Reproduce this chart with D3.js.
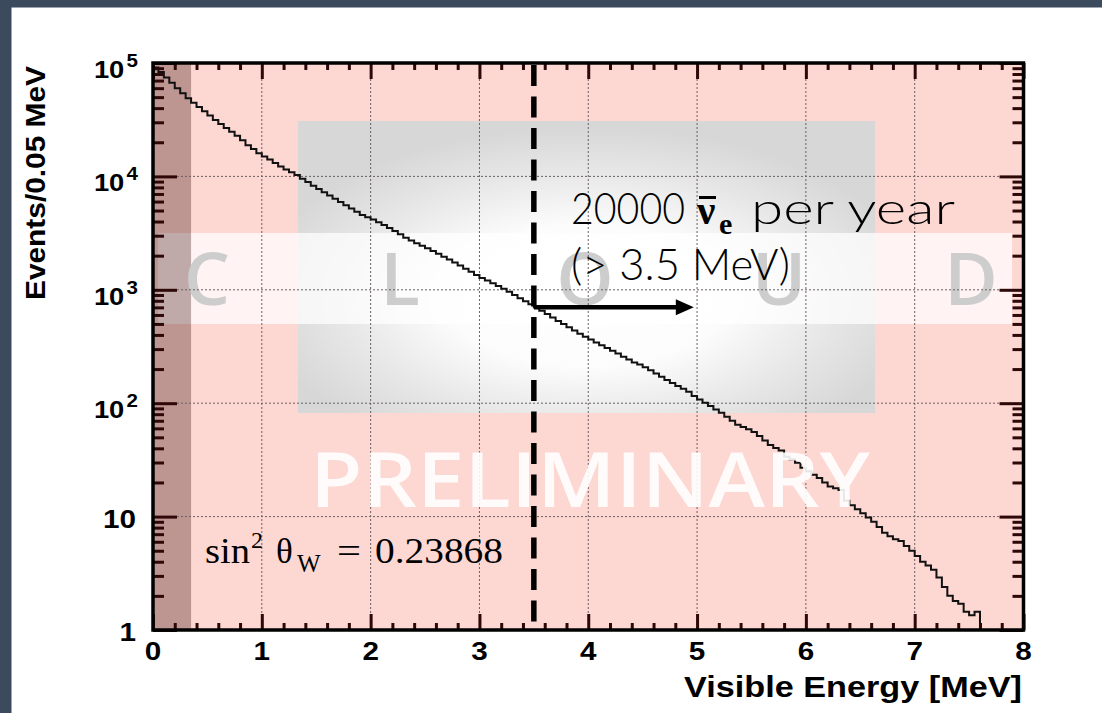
<!DOCTYPE html>
<html>
<head>
<meta charset="utf-8">
<script src="https://cdn.jsdelivr.net/npm/d3@7"></script>
<style>
  html, body { margin: 0; padding: 0; background: #ffffff; overflow: hidden; }
  svg { display: block; }
</style>
</head>
<body>
<svg id="chart" width="1102" height="713"></svg>
<script>
// Simulated visible-energy spectrum, events per 0.05 MeV bin (0 – 8 MeV)
const binWidth = 0.05;
const eventsPerBin = [
  91200, 83200, 74600, 66800, 59800, 54100, 49000, 44700,
  40900, 37600, 34400, 31500, 29000, 26700, 24700, 22800, 20800, 18800, 17400, 16000,
  15000, 14100, 13100, 12200, 11500, 10900, 10300, 9550, 8910, 8280,
  7740, 7240, 6790, 6340, 5940, 5560, 5200, 4880, 4570, 4360,
  4170, 3940, 3720, 3510, 3300, 3090, 2880, 2720, 2570, 2440,
  2320, 2200, 2080, 1960, 1850, 1740, 1640, 1530, 1440, 1350,
  1270, 1210, 1140, 1080, 1020, 960, 900, 843, 791, 745,
  700, 655, 611, 569, 532, 499, 468, 437, 410, 385,
  365, 343, 324, 306, 290, 274, 257, 243, 229, 219,
  207, 195, 183, 171, 160, 151, 142, 134, 126, 116,
  108, 101, 94.4, 88.1, 82.2, 75.9, 70.0, 64.6, 61.7, 58.9,
  55.6, 51.3, 47.0, 42.7, 40.3, 38.2, 33.7, 32.0, 29.9, 26.9,
  25.1, 23.4, 21.9, 20.0, 18.4, 17.8, 17.2, 13.8, 12.6, 11.6,
  10.7, 9.8, 9.0, 8.1, 7.2, 6.7, 6.3, 6.1, 5.5, 5.0,
  4.5, 4.0, 3.7, 3.4, 2.9, 2.4, 2.0, 1.8, 1.7, 1.45,
  1.35, 1.45,
  0, 0, 0, 0, 0, 0, 0, 0
];

const xDomain = [0, 8];
const yDomain = [1, 1e5];
const xTickValues = [0, 1, 2, 3, 4, 5, 6, 7, 8];
const xTickLabels = ["0", "1", "2", "3", "4", "5", "6", "7", "8"];
const xMinorTicks = [0.2,0.4,0.6,0.8,1.2,1.4,1.6,1.8,2.2,2.4,2.6,2.8,3.2,3.4,3.6,3.8,
                     4.2,4.4,4.6,4.8,5.2,5.4,5.6,5.8,6.2,6.4,6.6,6.8,7.2,7.4,7.6,7.8];
const yTickValues = [1, 10, 100, 1000, 10000, 100000];
const yTickBases = ["1", "10", "10", "10", "10", "10"];
const yTickExponents = ["", "", "2", "3", "4", "5"];
const yMinorTicks = [2,3,4,5,6,7,8,9, 20,30,40,50,60,70,80,90,
                     200,300,400,500,600,700,800,900,
                     2000,3000,4000,5000,6000,7000,8000,9000,
                     20000,30000,40000,50000,60000,70000,80000,90000];
const xGridValues = [1, 2, 3, 4, 5, 6, 7];
const yGridValues = [10, 100, 1000, 10000];

// Annotation values
const thresholdEnergy = 3.5;      // MeV, dashed cut line
const arrowEndEnergy = 4.97;      // MeV
const arrowLevel = 700;           // events / bin at the cut
const lowEnergyBandEnd = 0.35;    // MeV, shaded region
const xTitle = "Visible Energy [MeV]";
const yTitle = "Events/0.05 MeV";

const svg = d3.select("#chart");

const x = d3.scaleLinear().domain(xDomain).range([153, 1023.5]);
const y = d3.scaleLog().domain(yDomain).range([630, 63]).clamp(true);
const [x0, x1] = x.range();
const [yb, yt] = y.range();

// --- page frame
svg.append("rect").attr("x", 0).attr("y", 0).attr("width", 1102).attr("height", 713).attr("fill", "#ffffff");
svg.append("rect").attr("x", 0).attr("y", 0).attr("width", 1102).attr("height", 7.5).attr("fill", "#3b4a5c");
svg.append("rect").attr("x", 0).attr("y", 0).attr("width", 11.5).attr("height", 713).attr("fill", "#3b4a5c");

const defs = svg.append("defs");
const glow = defs.append("radialGradient").attr("id", "glow")
  .attr("cx", 0.5).attr("cy", 0.6).attr("r", 0.58);
glow.append("stop").attr("offset", 0).attr("stop-color", "#ffffff");
glow.append("stop").attr("offset", 0.42).attr("stop-color", "#fcfcfc");
glow.append("stop").attr("offset", 0.75).attr("stop-color", "#e6e6e6");
glow.append("stop").attr("offset", 1).attr("stop-color", "#d7d7d7");

// --- plot background
svg.append("rect").attr("x", x0).attr("y", yt).attr("width", x1 - x0).attr("height", yb - yt)
  .attr("fill", "#fdd7d2");

// logo watermark
svg.append("rect").attr("x", 298).attr("y", 121).attr("width", 577).attr("height", 292)
  .attr("fill", "url(#glow)");
svg.append("rect").attr("x", 158).attr("y", 233).attr("width", 854).attr("height", 91)
  .attr("fill", "#ffffff").attr("opacity", 0.72);

// shaded low-energy region
svg.append("rect").attr("x", x(0)).attr("y", yt)
  .attr("width", x(lowEnergyBandEnd) - x(0)).attr("height", yb - yt)
  .attr("fill", "#2a0000").attr("opacity", 0.3);

const logoLayout = [["C", 207], ["L", 400], ["O", 585], ["U", 779], ["D", 971]];
svg.append("g").selectAll("text").data(logoLayout).join("text")
  .attr("x", d => d[1]).attr("y", 305)
  .attr("text-anchor", "middle")
  .attr("font-family", "'Open Sans', 'Lato', sans-serif")
  .attr("font-weight", 600)
  .attr("font-size", 73)
  .attr("fill", "#cdcdcd")
  .text(d => d[0]);

// --- grid
const grid = svg.append("g").attr("stroke", "#6a6060").attr("stroke-width", 1)
  .attr("stroke-dasharray", "2,2").attr("fill", "none");
grid.selectAll("line.gx").data(xGridValues).join("line").attr("class", "gx")
  .attr("x1", d => x(d)).attr("x2", d => x(d)).attr("y1", yt).attr("y2", yb);
grid.selectAll("line.gy").data(yGridValues).join("line").attr("class", "gy")
  .attr("x1", x0).attr("x2", x1).attr("y1", d => y(d)).attr("y2", d => y(d));

// --- histogram
const steps = eventsPerBin.map((v, i) => [i * binWidth, v]);
steps.push([eventsPerBin.length * binWidth, eventsPerBin[eventsPerBin.length - 1]]);
const stepLine = d3.line()
  .x(d => x(d[0]))
  .y(d => y(Math.max(d[1], yDomain[0])))
  .curve(d3.curveStepAfter);
svg.append("path").datum(steps)
  .attr("d", stepLine)
  .attr("fill", "none")
  .attr("stroke", "#111111")
  .attr("stroke-width", 2);

// PRELIMINARY watermark
svg.append("text")
  .attr("x", 310).attr("y", 507)
  .attr("font-family", "'Open Sans', 'Lato', sans-serif")
  .attr("font-weight", 600)
  .attr("font-size", 76)
  .attr("textLength", 560).attr("lengthAdjust", "spacingAndGlyphs")
  .attr("fill", "#ffffff").attr("opacity", 0.9)
  .text("PRELIMINARY");

// --- threshold line and arrow
svg.append("line")
  .attr("x1", x(thresholdEnergy)).attr("x2", x(thresholdEnergy))
  .attr("y1", yt + 2).attr("y2", yb)
  .attr("stroke", "#000").attr("stroke-width", 5.5)
  .attr("stroke-dasharray", "21,10.5");

const ay = y(arrowLevel);
svg.append("line")
  .attr("x1", x(thresholdEnergy)).attr("x2", x(arrowEndEnergy) - 14)
  .attr("y1", ay).attr("y2", ay)
  .attr("stroke", "#000").attr("stroke-width", 4.5);
svg.append("path")
  .attr("d", `M${x(arrowEndEnergy)},${ay} L${x(arrowEndEnergy) - 18},${ay - 8} L${x(arrowEndEnergy) - 18},${ay + 8} Z`)
  .attr("fill", "#000");

// rate annotation
const sansText = "'Lato', 'Open Sans', sans-serif";
const boldSerif = "'Liberation Serif', 'DejaVu Serif', serif";
svg.append("text").attr("x", 571).attr("y", 224)
  .attr("font-family", sansText).attr("font-weight", 300).attr("font-size", 44)
  .attr("textLength", 114).attr("lengthAdjust", "spacingAndGlyphs")
  .attr("fill", "#000").text("20000");
svg.append("text").attr("x", 697).attr("y", 224)
  .attr("font-family", boldSerif).attr("font-weight", 700)
  .attr("font-size", 41).attr("fill", "#000").text("ν");
svg.append("rect").attr("x", 699).attr("y", 196).attr("width", 17).attr("height", 3).attr("fill", "#000");
svg.append("text").attr("x", 719).attr("y", 234)
  .attr("font-family", boldSerif).attr("font-weight", 700)
  .attr("font-size", 30).attr("fill", "#000").text("e");
svg.append("text").attr("x", 751).attr("y", 224)
  .attr("font-family", sansText).attr("font-weight", 300).attr("font-size", 44)
  .attr("textLength", 204).attr("lengthAdjust", "spacingAndGlyphs")
  .attr("fill", "#000").text("per year");
svg.append("text").attr("x", 571).attr("y", 280)
  .attr("font-family", sansText).attr("font-weight", 300).attr("font-size", 44)
  .attr("textLength", 219).attr("lengthAdjust", "spacingAndGlyphs")
  .attr("fill", "#000").text("(> 3.5 MeV)");

// weak mixing angle annotation
const serif = "'Liberation Serif', 'DejaVu Serif', serif";
const mix = svg.append("g").attr("font-family", serif).attr("fill", "#000");
mix.append("text").attr("x", 205).attr("y", 563).attr("font-size", 35)
  .attr("textLength", 45).attr("lengthAdjust", "spacingAndGlyphs").text("sin");
mix.append("text").attr("x", 251).attr("y", 548).attr("font-size", 24).text("2");
mix.append("text").attr("x", 276).attr("y", 563).attr("font-size", 35).text("θ");
mix.append("text").attr("x", 297).attr("y", 572).attr("font-size", 25).text("W");
mix.append("text").attr("x", 337).attr("y", 563).attr("font-size", 35)
  .attr("textLength", 24).attr("lengthAdjust", "spacingAndGlyphs").text("=");
mix.append("text").attr("x", 375).attr("y", 563).attr("font-size", 35)
  .attr("textLength", 128).attr("lengthAdjust", "spacingAndGlyphs").text("0.23868");

// --- axes ticks (all four sides)
const tickColor = "#2e0808";
function drawTicks(axis, transform) {
  const g = svg.append("g").attr("transform", transform).call(axis);
  g.select(".domain").remove();
  g.selectAll(".tick line").attr("stroke", tickColor).attr("stroke-width", 3);
  g.selectAll(".tick text").remove();
}
drawTicks(d3.axisBottom(x).tickValues(xTickValues).tickSize(-16), `translate(0,${yb})`);
drawTicks(d3.axisBottom(x).tickValues(xMinorTicks).tickSize(-7), `translate(0,${yb})`);
drawTicks(d3.axisTop(x).tickValues(xTickValues).tickSize(-16), `translate(0,${yt})`);
drawTicks(d3.axisTop(x).tickValues(xMinorTicks).tickSize(-7), `translate(0,${yt})`);
drawTicks(d3.axisLeft(y).tickValues(yTickValues).tickSize(-24), `translate(${x0},0)`);
drawTicks(d3.axisLeft(y).tickValues(yMinorTicks).tickSize(-11), `translate(${x0},0)`);
drawTicks(d3.axisRight(y).tickValues(yTickValues).tickSize(-24), `translate(${x1},0)`);
drawTicks(d3.axisRight(y).tickValues(yMinorTicks).tickSize(-11), `translate(${x1},0)`);

// frame
svg.append("rect").attr("x", x0).attr("y", yt).attr("width", x1 - x0).attr("height", yb - yt)
  .attr("fill", "none").attr("stroke", "#000").attr("stroke-width", 3.5);

// --- tick labels
const labelFont = "'Liberation Sans', Arial, Helvetica, sans-serif";
svg.append("g").selectAll("text").data(xTickValues).join("text")
  .attr("transform", d => `translate(${x(d)},660) scale(1.14,1)`)
  .attr("text-anchor", "middle")
  .attr("font-family", labelFont).attr("font-weight", 700).attr("font-size", 26)
  .attr("fill", "#000")
  .text((d, i) => xTickLabels[i]);

const yl = svg.append("g").selectAll("g").data(yTickValues).join("g");
yl.each(function (d, i) {
  const g = d3.select(this);
  if (yTickExponents[i] === "") {
    g.append("text")
      .attr("transform", `translate(136,${y(d) + 11}) scale(1.14,1)`)
      .attr("text-anchor", "end")
      .attr("font-family", labelFont).attr("font-weight", 700).attr("font-size", 26)
      .attr("fill", "#000").text(yTickBases[i]);
  } else {
    const t = g.append("text")
      .attr("transform", `translate(138,${y(d) + 15}) scale(1.14,1)`)
      .attr("text-anchor", "end")
      .attr("font-family", labelFont).attr("font-weight", 700)
      .attr("fill", "#000");
    t.append("tspan").attr("font-size", 24).text(yTickBases[i]);
    t.append("tspan").attr("font-size", 18).attr("dx", 2).attr("dy", -11).text(yTickExponents[i]);
  }
});

// axis titles
svg.append("text")
  .attr("x", 1022).attr("y", 697)
  .attr("text-anchor", "end")
  .attr("font-family", labelFont).attr("font-weight", 700).attr("font-size", 30)
  .attr("textLength", 338).attr("lengthAdjust", "spacingAndGlyphs")
  .attr("fill", "#000").text(xTitle);
svg.append("text")
  .attr("transform", "translate(45,66) rotate(-90)")
  .attr("text-anchor", "end")
  .attr("font-family", labelFont).attr("font-weight", 700).attr("font-size", 28)
  .attr("textLength", 234).attr("lengthAdjust", "spacingAndGlyphs")
  .attr("fill", "#000").text(yTitle);
</script>
</body>
</html>
